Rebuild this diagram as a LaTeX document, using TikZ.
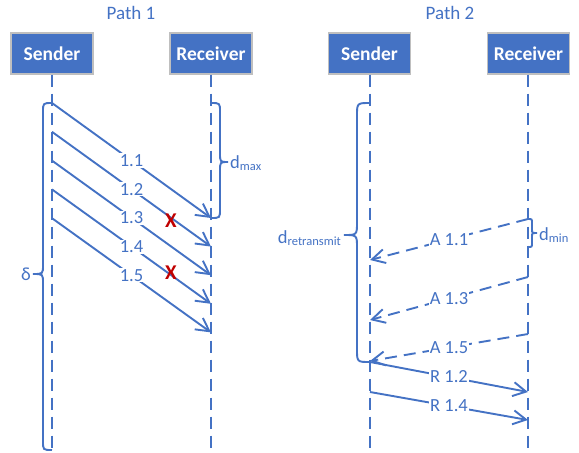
\documentclass[tikz,border=0pt]{standalone}
\usepackage{fontspec}
\setmainfont{Carlito}
\usetikzlibrary{arrows.meta}
\definecolor{ablue}{HTML}{4472C4}
\definecolor{xred}{HTML}{C00000}
\definecolor{bgray}{HTML}{BFBFBF}
\newcommand{\lowsub}[1]{\raisebox{-2.5pt}{\fontsize{12.5}{13}\selectfont #1}}
\begin{document}
\begin{tikzpicture}[x=1pt,y=-1pt,
 box/.style={draw=bgray, line width=1.3pt, fill=ablue, minimum width=82pt, minimum height=41pt, inner sep=0pt, text=white, font=\fontsize{19.5}{22}\selectfont\bfseries},
 ttl/.style={text=ablue, font=\fontsize{19}{22}\selectfont},
 lbl/.style={text=ablue, font=\fontsize{18.5}{22}\selectfont, fill=white, inner sep=1pt},
 txt/.style={text=ablue, font=\fontsize{18.5}{22}\selectfont, inner sep=0pt},
 life/.style={draw=ablue, line width=2pt, dash pattern=on 12.5pt off 6.5pt},
 msg/.style={draw=ablue, line width=1.9pt, -{Straight Barb[length=13pt,width=14pt]}},
 ack/.style={msg, dash pattern=on 12pt off 7pt},
 brc/.style={draw=ablue, line width=1.9pt},
 cross/.style={text=xred, font=\fontsize{21}{24}\selectfont\bfseries, inner sep=0pt}]
\useasboundingbox (0,0) rectangle (579,453);
% titles
\node[ttl] (t1) at (131,13) {Path 1};
\node[ttl] (t2) at (450,13) {Path 2};
% boxes
\node[box] (s1) at (52,53.5) {Sender};
\node[box] (r1) at (211,53.5) {Receiver};
\node[box] (s2) at (369.5,53.5) {Sender};
\node[box] (r2) at (528.5,53.5) {Receiver};
% lifelines
\coordinate (s1e) at (52,453);
\coordinate (r1e) at (211,453);
\coordinate (s2e) at (370,453);
\coordinate (r2e) at (528,453);
\draw[life] (s1.south) -- (s1e);
\draw[life] (r1.south) -- (r1e);
\draw[life] (s2.south -| s2e) -- (s2e);
\draw[life] (r2.south -| r2e) -- (r2e);
% path 1 messages
\foreach \i/\n in {0/1.1,1/1.2,2/1.3,3/1.4,4/1.5} {
  \coordinate (p1s\i) at (52,103+28.8*\i);
  \coordinate (p1r\i) at (211,218+28.6*\i);
  \draw[msg] (p1s\i) -- node[lbl] {\n} (p1r\i);
}
\node[cross] (x1) at (171,221) {X};
\node[cross] (x2) at (171,273) {X};
% delta brace
\coordinate (dt) at (52,103);
\coordinate (db) at (52,450);
\draw[brc] (dt) .. controls (43,103) .. (43,112) -- (43,265)
  .. controls (43,274) .. (33,274) .. controls (43,274) .. (43,283)
  -- (43,441) .. controls (43,450) .. (db);
\node[txt, anchor=base east] (delta) at (31,280) {δ};
% dmax brace
\coordinate (mt) at (211,103);
\coordinate (mb) at (211,218);
\draw[brc] (mt) .. controls (220,103) .. (220,112) -- (220,153)
  .. controls (220,162) .. (228,162) .. controls (220,162) .. (220,171)
  -- (220,209) .. controls (220,218) .. (mb);
\node[txt, anchor=base west] (dmax) at (230,168) {d\lowsub{max}};
% path 2 acks
\coordinate (a1r) at (528,219); \coordinate (a1s) at (370,260);
\coordinate (a3r) at (528,277); \coordinate (a3s) at (370,320);
\coordinate (a5r) at (528,334); \coordinate (a5s) at (370,361);
\draw[ack] (a1r) -- node[lbl] {A 1.1} (a1s);
\draw[ack] (a3r) -- node[lbl] {A 1.3} (a3s);
\draw[ack] (a5r) -- node[lbl] {A 1.5} (a5s);
% retransmits
\coordinate (q2s) at (370,362); \coordinate (q2r) at (528,392);
\coordinate (q4s) at (370,392); \coordinate (q4r) at (528,420);
\draw[msg] (q2s) -- node[lbl] {R 1.2} (q2r);
\draw[msg] (q4s) -- node[lbl] {R 1.4} (q4r);
% dretransmit brace
\coordinate (rt) at (370,103);
\coordinate (rb) at (370,362);
\draw[brc] (rt) .. controls (357,103) .. (357,116) -- (357,222)
  .. controls (357,235) .. (344,235) .. controls (357,235) .. (357,248)
  -- (357,349) .. controls (357,362) .. (rb);
\node[txt, anchor=base east] (dret) at (341,243) {d\lowsub{retransmit}};
% dmin brace
\draw[brc] (a1r) .. controls (532,219) .. (532,223) -- (532,229)
  .. controls (532,233) .. (537,233) .. controls (532,233) .. (532,237)
  -- (532,243) .. controls (532,247) .. (528,247);
\node[txt, anchor=base west] (dmin) at (539,240) {d\lowsub{min}};
\end{tikzpicture}
\end{document}
